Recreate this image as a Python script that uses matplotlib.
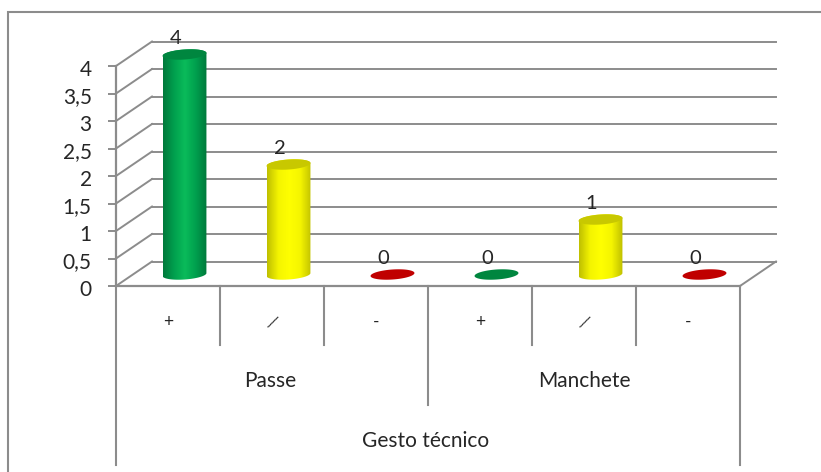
import numpy as np
import matplotlib

matplotlib.use("Agg")
import matplotlib.pyplot as plt
from matplotlib.colors import LinearSegmentedColormap
from matplotlib.patches import Polygon
from matplotlib.transforms import ScaledTranslation

W, H = 821, 472

# data
groups = ["Passe", "Manchete"]
marks = ["+", "⁄", "-", "+", "⁄", "-"]
values = [4, 2, 0, 0, 1, 0]
colors = ["green", "yellow", "red", "green", "yellow", "red"]
y_ticks = [0, 0.5, 1, 1.5, 2, 2.5, 3, 3.5, 4]
y_tick_labels = ["0", "0,5", "1", "1,5", "2", "2,5", "3", "3,5", "4"]
axis_title = "Gesto técnico"

GRAY = "#8c8c8c"
TEXT = "#262626"
side_cmaps = {
    "green": ["#007a3c", "#00a04e", "#0abb5a", "#00a04e", "#007a3c"],
    "yellow": ["#c0c000", "#f4f400", "#ffff00", "#f4f400", "#c0c000"],
}
top_colors = {"green": "#00863f", "yellow": "#c8c800", "red": "#c00000"}

plt.rcParams["font.family"] = ["Lato", "DejaVu Sans"]

fig = plt.figure(figsize=(W / 100, H / 100), dpi=100)
# frame of the chart area
fig.add_artist(
    plt.Rectangle((8 / W, 0 - 0.02), 1.0, 1 - 12 / H + 0.02, transform=fig.transFigure,
                  fill=False, edgecolor=GRAY, linewidth=1.5)
)
ax = fig.add_axes([116 / W, 1 - 286 / H, 624 / W, 220 / H])
ax.patch.set_alpha(0)

px_x = 6 / 624  # data units per pixel
px_y = 4 / 220
depth_x = 36 * px_x
depth_y = 24.5 * px_y


def ellipse(cx, cy, a=22, b=5, tilt=4):
    t = np.linspace(0, 2 * np.pi, 80, endpoint=False)
    th = np.radians(tilt)
    ex = a * np.cos(t) * np.cos(th) - b * np.sin(t) * np.sin(th)
    ey = a * np.cos(t) * np.sin(th) + b * np.sin(t) * np.cos(th)
    return np.column_stack([cx + ex * px_x, cy + ey * px_y])


def cylinder(x, v, color):
    cx = x + 0.5 + 16.5 * px_x
    base = 11.5 * px_y
    low = ellipse(cx, base)
    high = ellipse(cx, base + v)
    if v > 0:
        # side of the cylinder: lower half of base ellipse, upper half of top ellipse
        outline = np.vstack([low[40:], high[:40]])
        clip = Polygon(outline, closed=True, transform=ax.transData, facecolor="none", edgecolor="none")
        ax.add_patch(clip)
        cmap = LinearSegmentedColormap.from_list(color, side_cmaps[color])
        im = ax.imshow(
            np.linspace(0, 1, 64).reshape(1, -1),
            cmap=cmap,
            extent=(cx - 22 * px_x, cx + 22 * px_x, 0, base + v + 8 * px_y),
            aspect="auto",
            zorder=3,
        )
        im.set_clip_path(clip)
        im.set_clip_box(fig.bbox)  # the tall bar goes above the axes box
    ax.add_patch(Polygon(high, closed=True, facecolor=top_colors[color], edgecolor="none", zorder=4, clip_on=False))
    ax.text(cx - 9 * px_x, base + v + 16 * px_y, str(v), ha="center", va="center",
            fontsize=14.5, color=TEXT, zorder=5, clip_on=False)


# back wall and left side wall
for t in y_ticks:
    ax.plot([0, depth_x], [t, t + depth_y], color=GRAY, lw=1.4, zorder=1, clip_on=False)
    ax.plot([depth_x, 6 + depth_x], [t + depth_y, t + depth_y], color=GRAY, lw=1.4, zorder=1, clip_on=False)
# floor right edge
ax.plot([6, 6 + depth_x], [0, depth_y], color=GRAY, lw=1.4, zorder=1, clip_on=False)

for i, (v, c) in enumerate(zip(values, colors)):
    cylinder(i, v, c)

ax.set_xlim(0, 6)
ax.set_ylim(0, 4)
ax.set_xticks([])
ax.set_yticks(y_ticks)
ax.set_yticklabels(y_tick_labels, fontsize=15, color=TEXT)
ax.tick_params(axis="y", length=6, width=1.4, color=GRAY, pad=11.5)
for lab in ax.get_yticklabels():
    lab.set_transform(lab.get_transform() + ScaledTranslation(0, -1.5 / 72, fig.dpi_scale_trans))
for side in ["top", "right"]:
    ax.spines[side].set_visible(False)
for side in ["left", "bottom"]:
    ax.spines[side].set_color(GRAY)
    ax.spines[side].set_linewidth(1.6)

# multi level category axis, drawn below the floor
sep_bottom = {0: 179, 1: 59, 2: 59, 3: 119, 4: 59, 5: 59, 6: 179}
for x, drop in sep_bottom.items():
    ax.plot([x, x], [0, -drop * px_y], color=GRAY, lw=1.5, clip_on=False, zorder=2)
for i, m in enumerate(marks):
    ax.text(i + 0.5, -36 * px_y, m, ha="center", va="center", fontsize=12.5, color=TEXT,
            rotation=-15 if m == "⁄" else 0)
for i, g in enumerate(groups):
    ax.text(3 * i + 1.5 - (2 * px_x if i == 0 else 0), -95 * px_y, g, ha="center", va="center",
            fontsize=15, color=TEXT)
ax.text(3 - 2 * px_x, -155 * px_y, axis_title, ha="center", va="center", fontsize=15, color=TEXT)

fig.savefig("out.png", dpi=100)
plt.close(fig)
